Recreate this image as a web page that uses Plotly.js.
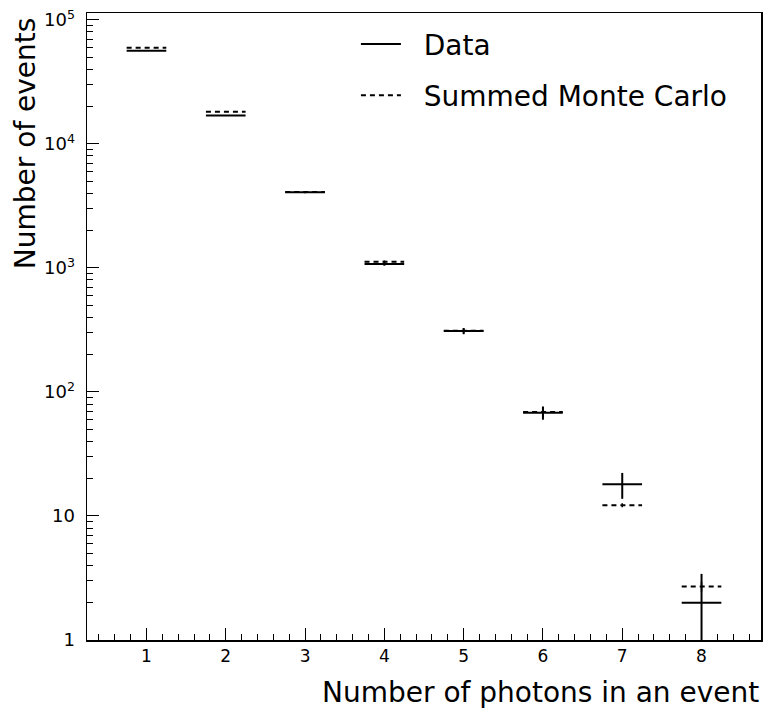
<!DOCTYPE html>
<html>
<head>
<meta charset="utf-8">
<script src="https://cdn.plot.ly/plotly-3.0.1.min.js"></script>
<style>
  html, body { margin: 0; padding: 0; background: #fff; }
  #chart { width: 767px; height: 716px; }
</style>
</head>
<body>
<div id="chart"></div>
<script>
// ---- data ----
const nPhotons   = [1, 2, 3, 4, 5, 6, 7, 8];
const dataCounts = [56500, 17000, 4070, 1075, 310, 68, 18, 2];
const mcCounts   = [59800, 18200, 4100, 1120, 312, 69, 12.2, 2.7];
const mcErrors   = [240, 130, 60, 30, 15, 7, 0.45, 0.25];
const xTickVals  = [1, 2, 3, 4, 5, 6, 7, 8];
const yTickVals  = [1, 10, 100, 1000, 10000, 100000];
const yTickText  = ['1', '10', '10<sup>2</sup>', '10<sup>3</sup>', '10<sup>4</sup>', '10<sup>5</sup>'];
const binHalfWidth = 0.25;

// horizontal bin segments built from the data arrays
function segments(centers, values) {
  const xs = [], ys = [];
  centers.forEach((c, i) => {
    xs.push(c - binHalfWidth, c + binHalfWidth, null);
    ys.push(values[i], values[i], null);
  });
  return {xs, ys};
}
const dSeg = segments(nPhotons, dataCounts);
const mSeg = segments(nPhotons, mcCounts);
const dataErrors = dataCounts.map(v => Math.sqrt(v));

const FONT = 'DejaVu Sans, Liberation Sans, Arial, sans-serif';
const PAD = '\u00A0\u00A0';

const traces = [
  {
    x: dSeg.xs, y: dSeg.ys, mode: 'lines', name: PAD + 'Data',
    line: {color: '#000', width: 2},
    legendgroup: 'a', legendrank: 1, connectgaps: false, hoverinfo: 'skip'
  },
  {
    x: mSeg.xs, y: mSeg.ys, mode: 'lines', name: PAD + 'Summed Monte Carlo',
    line: {color: '#000', width: 2, dash: '5px,4px'},
    legendgroup: 'b', legendrank: 2, connectgaps: false, hoverinfo: 'skip'
  },
  {
    x: nPhotons, y: mcCounts, mode: 'markers', showlegend: false,
    marker: {size: 0.1, color: '#000'},
    error_y: {type: 'data', array: mcErrors, visible: true, width: 0, thickness: 1.5, color: '#000'},
    hoverinfo: 'skip'
  },
  {
    x: nPhotons, y: dataCounts, mode: 'markers', showlegend: false,
    marker: {size: 0.1, color: '#000'},
    error_y: {type: 'data', array: dataErrors, visible: true, width: 0, thickness: 2, color: '#000'},
    hoverinfo: 'skip'
  }
];

const layout = {
  width: 767, height: 716,
  margin: {l: 87, r: 6, t: 13, b: 76, pad: 0},
  paper_bgcolor: '#fff', plot_bgcolor: '#fff',
  font: {family: FONT, color: '#000', size: 17},
  showlegend: true,
  legend: {
    x: 0.399, xanchor: 'left', y: 0.99, yanchor: 'top',
    font: {family: FONT, size: 28, color: '#000'},
    bgcolor: 'rgba(0,0,0,0)', borderwidth: 0,
    traceorder: 'grouped', tracegroupgap: 12, itemwidth: 40
  },
  xaxis: {
    range: [0.25, 8.75],
    tickvals: xTickVals, ticktext: xTickVals.map(String),
    ticks: 'inside', ticklen: 12, tickwidth: 1, tickcolor: '#000',
    minor: {ticks: 'inside', ticklen: 6, dtick: 0.2, tick0: 0, tickwidth: 1, tickcolor: '#000'},
    showline: true, linecolor: '#000', linewidth: 1.5, mirror: true,
    showgrid: false, zeroline: false,
    tickfont: {family: FONT, size: 17, color: '#000'}
  },
  yaxis: {
    type: 'log', range: [0, 5.056],
    tickvals: yTickVals, ticktext: yTickText,
    ticks: 'inside', ticklen: 12, tickwidth: 1, tickcolor: '#000',
    minor: {ticks: 'inside', ticklen: 6, dtick: 'D1', tickwidth: 1, tickcolor: '#000'},
    showline: true, linecolor: '#000', linewidth: 1.5, mirror: true,
    showgrid: false, zeroline: false,
    ticklabelstandoff: 7,
    tickfont: {family: FONT, size: 18, color: '#000'}
  },
  annotations: [
    {
      text: 'Number of photons in an event', xref: 'paper', yref: 'paper',
      x: 1, xanchor: 'right', y: -0.084, yanchor: 'middle', showarrow: false,
      font: {family: FONT, size: 28, color: '#000'}
    },
    {
      text: 'Number of events', xref: 'paper', yref: 'paper', textangle: -90,
      x: -0.09, xanchor: 'center', y: 0.997, yanchor: 'top', showarrow: false,
      font: {family: FONT, size: 28, color: '#000'}
    }
  ]
};

Plotly.newPlot('chart', traces, layout, {displayModeBar: false, staticPlot: true});
</script>
</body>
</html>
